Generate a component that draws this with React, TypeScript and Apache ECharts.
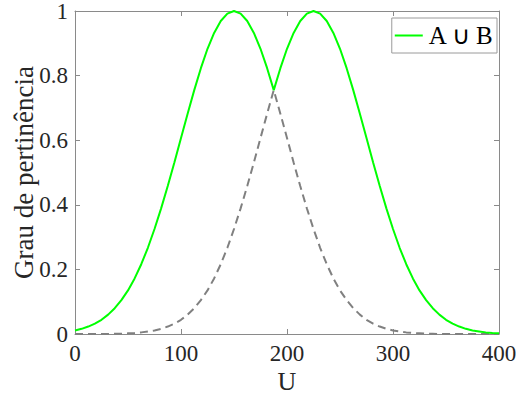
import React, { useEffect, useRef } from "react";
import * as echarts from "echarts";

const U = [
  0, 6.25, 12.5, 18.75, 25, 31.25, 37.5, 43.75, 50, 56.25, 62.5, 68.75, 75, 81.25, 87.5, 93.75,
  100, 106.25, 112.5, 118.75, 125, 131.25, 137.5, 143.75, 150, 156.25, 162.5, 168.75, 175, 181.25, 187.5, 193.75,
  200, 206.25, 212.5, 218.75, 225, 231.25, 237.5, 243.75, 250, 256.25, 262.5, 268.75, 275, 281.25, 287.5, 293.75,
  300, 306.25, 312.5, 318.75, 325, 331.25, 337.5, 343.75, 350, 356.25, 362.5, 368.75, 375, 381.25, 387.5, 393.75, 400,
];

const setA = [
  0.011, 0.016, 0.023, 0.032, 0.044, 0.06, 0.08, 0.105, 0.135, 0.172, 0.216, 0.267, 0.325, 0.389, 0.458, 0.531,
  0.607, 0.682, 0.755, 0.823, 0.883, 0.932, 0.969, 0.992, 1.0, 0.992, 0.969, 0.932, 0.883, 0.823, 0.755, 0.682,
  0.607, 0.531, 0.458, 0.389, 0.325, 0.267, 0.216, 0.172, 0.135, 0.105, 0.08, 0.06, 0.044, 0.032, 0.023, 0.016,
  0.011, 0.008, 0.005, 0.003, 0.002, 0.001, 0.001, 0, 0, 0, 0, 0, 0, 0, 0, 0, 0,
];

const setB = [
  0, 0, 0, 0, 0, 0, 0.001, 0.001, 0.002, 0.003, 0.005, 0.008, 0.011, 0.016, 0.023, 0.032,
  0.044, 0.06, 0.08, 0.105, 0.135, 0.172, 0.216, 0.267, 0.325, 0.389, 0.458, 0.531, 0.607, 0.682, 0.755, 0.823,
  0.883, 0.932, 0.969, 0.992, 1.0, 0.992, 0.969, 0.932, 0.883, 0.823, 0.755, 0.682, 0.607, 0.531, 0.458, 0.389,
  0.325, 0.267, 0.216, 0.172, 0.135, 0.105, 0.08, 0.06, 0.044, 0.032, 0.023, 0.016, 0.011, 0.008, 0.005, 0.003, 0.002,
];

const xTicks = [0, 100, 200, 300, 400];
const yTicks = [0, 0.2, 0.4, 0.6, 0.8, 1];

const FONT = "Liberation Serif";
const AXIS_COLOR = "#8a8a8a";
const TEXT_COLOR = "#262626";

export default function App() {
  const ref = useRef<HTMLDivElement>(null);
  useEffect(() => {
    if (!ref.current) return;
    const chart = echarts.init(ref.current, null, { renderer: "svg" });
    const union = U.map((u, i) => [u, Math.max(setA[i], setB[i])]);
    const inter = U.map((u, i) => [u, Math.min(setA[i], setB[i])]);
    const axisCommon = {
      type: "value" as const,
      axisLine: { show: true, onZero: false, lineStyle: { color: AXIS_COLOR, width: 1 } },
      axisTick: { show: true, inside: true, length: 5, lineStyle: { color: AXIS_COLOR } },
      splitLine: { show: false },
    };
    chart.setOption({
      animation: false,
      backgroundColor: "#ffffff",
      textStyle: { fontFamily: FONT },
      grid: { left: 75, right: 29, top: 11, bottom: 60, containLabel: false, outerBoundsMode: "none" },
      legend: {
        data: [{ name: "A ∪ B", icon: "rect" }],
        right: 31,
        top: 18,
        orient: "vertical",
        backgroundColor: "#ffffff",
        borderColor: "#9a9a9a",
        borderWidth: 1,
        borderRadius: 0,
        padding: [5, 3, 5, 3],
        itemWidth: 28,
        itemHeight: 2,
        itemGap: 4,
        textStyle: { fontFamily: FONT, fontSize: 25, color: "#000000", padding: [0, 0, 0, 1] },
      },
      xAxis: [
        {
          ...axisCommon,
          position: "bottom",
          min: 0,
          max: 400,
          interval: 100,
          name: "U",
          nameLocation: "middle",
          nameGap: 34,
          nameMoveOverlap: false,
          nameTextStyle: { fontFamily: FONT, fontSize: 26, color: TEXT_COLOR },
          axisLabel: {
            fontFamily: FONT,
            fontSize: 23,
            color: TEXT_COLOR,
            margin: 8,
            formatter: (v: number) => (xTicks.includes(v) ? String(v) : ""),
          },
        },
        {
          ...axisCommon,
          position: "top",
          min: 0,
          max: 400,
          interval: 100,
          axisLabel: { show: false },
        },
      ],
      yAxis: [
        {
          ...axisCommon,
          position: "left",
          min: 0,
          max: 1,
          interval: 0.2,
          name: "Grau de pertinência",
          nameLocation: "middle",
          nameGap: 38,
          nameMoveOverlap: false,
          nameTextStyle: { fontFamily: FONT, fontSize: 27, color: TEXT_COLOR },
          axisLabel: {
            fontFamily: FONT,
            fontSize: 23,
            color: TEXT_COLOR,
            margin: 7,
            formatter: (v: number) => {
              const t = yTicks.find((y) => Math.abs(y - v) < 1e-9);
              return t === undefined ? "" : String(t);
            },
          },
        },
        {
          ...axisCommon,
          position: "right",
          min: 0,
          max: 1,
          interval: 0.2,
          axisLabel: { show: false },
        },
      ],
      series: [
        {
          name: "A ∩ B",
          type: "line",
          data: inter,
          symbol: "none",
          clip: false,
          lineStyle: { color: "#808080", width: 2, type: [8, 5] },
          itemStyle: { color: "#808080" },
          z: 2,
        },
        {
          name: "A ∪ B",
          type: "line",
          data: union,
          symbol: "none",
          clip: false,
          lineStyle: { color: "#00ff00", width: 2 },
          itemStyle: { color: "#00ff00" },
          z: 3,
        },
      ],
    });
    return () => chart.dispose();
  }, []);
  return (
    <div
      ref={ref}
      style={{ position: "fixed", left: 0, top: 0, width: 528, height: 394, background: "#fff" }}
    />
  );
}
